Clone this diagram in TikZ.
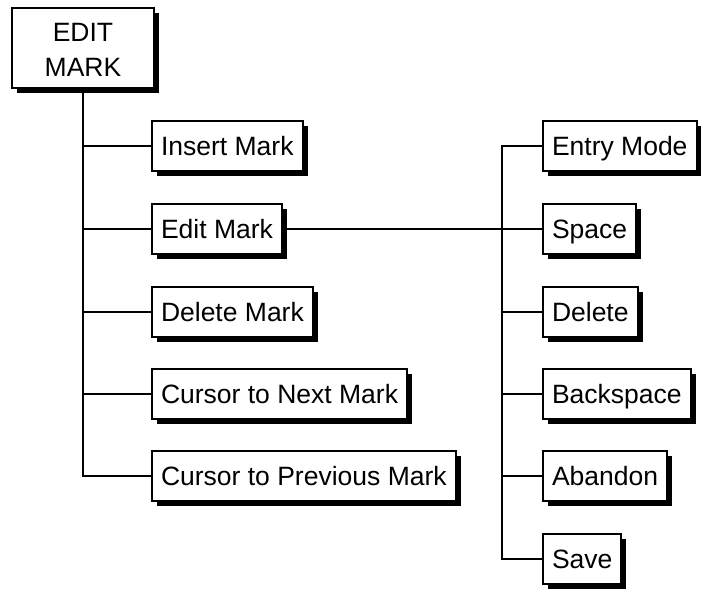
\documentclass[tikz,border=0pt]{standalone}
\usepackage{fontspec}
\setmainfont{Liberation Sans}
\usetikzlibrary{shadows}
\tikzset{
  menubox/.style={draw, line width=2pt, fill=white, font=\fontsize{26.5}{31}\selectfont,
    minimum height=50pt, inner xsep=9pt, inner ysep=0pt, anchor=west,
    text height=22pt, text depth=3pt,
    general shadow={fill=black, shadow xshift=5pt, shadow yshift=-5pt}},
  topbox/.style={draw, line width=2pt, fill=white, font=\fontsize{26.5}{33}\selectfont,
    minimum width=142pt, minimum height=80pt, align=center, inner sep=0pt,
    general shadow={fill=black, shadow xshift=5pt, shadow yshift=-5pt}},
  link/.style={line width=2pt}
}
\begin{document}
\begin{tikzpicture}[x=1pt,y=-1pt]
\useasboundingbox (0,0) rectangle (701,589);
\node[topbox] (top) at (83,48) {\raisebox{-4pt}[\height][\depth]{\begin{tabular}{@{}c@{}}EDIT\\[2pt]MARK\end{tabular}}};
\node[menubox] (ins) at (151,146) {Insert Mark};
\node[menubox] (edm) at (151,229) {Edit Mark};
\node[menubox] (del) at (151,312) {Delete Mark};
\node[menubox] (cnm) at (151,394) {Cursor to Next Mark};
\node[menubox] (cpm) at (151,476) {Cursor to Previous Mark};
\node[menubox] (ent) at (542,146) {Entry Mode};
\node[menubox] (spc) at (542,229) {Space};
\node[menubox] (dl2) at (542,312) {Delete};
\node[menubox] (bks) at (542,394) {Backspace};
\node[menubox] (abd) at (542,476) {Abandon};
\node[menubox] (sav) at (542,559) {Save};
\coordinate (rt) at (502,0);
\draw[link] (top.south) -- (top.south |- cpm.west) -- (cpm.west);
\foreach \n in {ins,edm,del,cnm} \draw[link] (top.south |- \n.west) -- (\n.west);
\draw[link] (ent.west) -- (rt |- ent.west) -- (rt |- sav.west) -- (sav.west);
\foreach \n in {dl2,bks,abd} \draw[link] (rt |- \n.west) -- (\n.west);
\draw[link] (edm.east) -- (spc.west);
\end{tikzpicture}
\end{document}
